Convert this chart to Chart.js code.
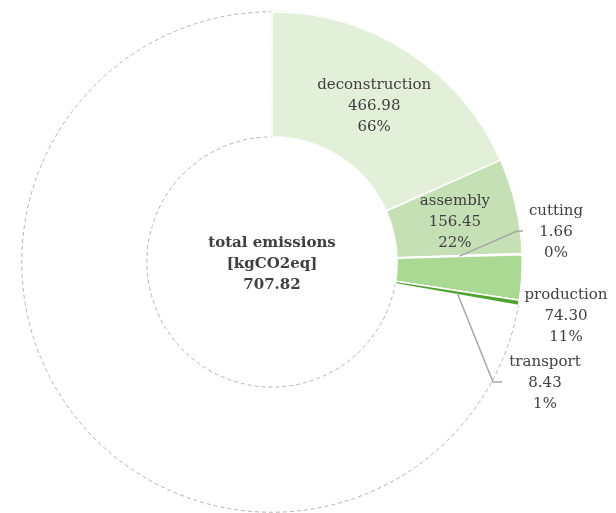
<!DOCTYPE html>
<html>
<head>
<meta charset="utf-8">
<script src="https://cdn.jsdelivr.net/npm/chart.js@4/dist/chart.umd.min.js"></script>
<style>
  body { margin: 0; background: #fff; }
  canvas { display: block; }
</style>
</head>
<body>
<canvas id="myChart" width="616" height="513"></canvas>
<script>
// emission stages, kgCO2eq
const stages = ['deconstruction', 'assembly', 'cutting', 'production', 'transport'];
const emissions = [466.98, 156.45, 1.66, 74.30, 8.43];
const stageColors = ['#E2F0D9', '#C5E0B4', '#B4D99C', '#A9D993', '#4EA22F'];
// invisible filler so the stages only take up part of the ring
const filler = 1840.33;

const total = emissions.reduce((a, b) => a + b, 0);

// percentages that add up to 100 (largest remainder)
function percents(values) {
    let sum = values.reduce((a, b) => a + b, 0);
    let raw = values.map(v => v / sum * 100);
    let out = raw.map(Math.floor);
    let left = 100 - out.reduce((a, b) => a + b, 0);
    let order = raw.map((r, i) => [r - Math.floor(r), i]).sort((a, b) => b[0] - a[0]);
    for (let k = 0; k < left; k++) out[order[k][1]]++;
    return out;
}
const pct = percents(emissions);

const textColor = '#404040';
const font = '15px "DejaVu Serif"';
const lineH = 21;

// dashed outline of the whole ring
const ringOutline = {
    id: 'ringOutline',
    beforeDatasetsDraw(chart) {
        let arc = chart.getDatasetMeta(0).data[0];
        let ctx = chart.ctx;
        ctx.save();
        ctx.strokeStyle = '#B4B4B4';
        ctx.lineWidth = 1;
        ctx.setLineDash([4, 3]);
        ctx.beginPath();
        ctx.arc(arc.x, arc.y, arc.outerRadius, 0, Math.PI * 2);
        ctx.stroke();
        ctx.beginPath();
        ctx.arc(arc.x, arc.y, arc.innerRadius, 0, Math.PI * 2);
        ctx.stroke();
        ctx.beginPath();
        ctx.moveTo(arc.x, arc.y - arc.innerRadius);
        ctx.lineTo(arc.x, arc.y - arc.outerRadius);
        ctx.stroke();
        ctx.restore();
    }
};

function block(ctx, lines, x, y) {
    lines.forEach((t, i) => {
        ctx.fillText(t, x, y + (i - (lines.length - 1) / 2) * lineH);
    });
}

// slice labels; the small ones sit outside with a leader line
const outside = {
    2: { elbow: [245, -31], end: [251, -31], text: [284, -30] },
    3: { text: [294, 54] },
    4: { elbow: [221, 120], end: [230, 120], text: [273, 121] }
};

const sliceLabels = {
    id: 'sliceLabels',
    afterDatasetsDraw(chart) {
        let ctx = chart.ctx;
        let arcs = chart.getDatasetMeta(0).data;
        let cx = arcs[0].x, cy = arcs[0].y;
        ctx.save();
        ctx.font = font;
        ctx.fillStyle = textColor;
        ctx.textAlign = 'center';
        ctx.textBaseline = 'middle';
        stages.forEach((name, i) => {
            let lines = [name, emissions[i].toFixed(2), pct[i] + '%'];
            let o = outside[i];
            if (!o) {
                let p = arcs[i].getCenterPoint();
                block(ctx, lines, p.x, p.y + 2);
                return;
            }
            if (o.elbow) {
                let p = arcs[i].getCenterPoint();
                ctx.save();
                ctx.strokeStyle = '#A6A6A6';
                ctx.lineWidth = 1.5;
                ctx.beginPath();
                ctx.moveTo(p.x, p.y);
                ctx.lineTo(cx + o.elbow[0], cy + o.elbow[1]);
                ctx.lineTo(cx + o.end[0], cy + o.end[1]);
                ctx.stroke();
                ctx.restore();
            }
            block(ctx, lines, cx + o.text[0], cy + o.text[1]);
        });

        ctx.font = 'bold 15px "DejaVu Serif"';
        block(ctx, ['total emissions', '[kgCO2eq]', total.toFixed(2)], cx, cy + 2);
        ctx.restore();
    }
};

var ctx = document.getElementById('myChart').getContext('2d');
var chart = new Chart(ctx, {
    type: 'doughnut',
    data: {
        labels: [...stages, ''],
        datasets: [{
            data: [...emissions, filler],
            backgroundColor: [...stageColors, 'rgba(0,0,0,0)'],
            borderColor: '#ffffff',
            borderWidth: [1.5, 1.5, 1.5, 1.5, 1.5, 0]
        }]
    },
    options: {
        responsive: false,
        animation: false,
        cutout: '50%',
        layout: { padding: { left: 21, right: 93, top: 11, bottom: 0 } },
        plugins: {
            legend: { display: false },
            tooltip: { enabled: false }
        }
    },
    plugins: [ringOutline, sliceLabels]
});
</script>
</body>
</html>
